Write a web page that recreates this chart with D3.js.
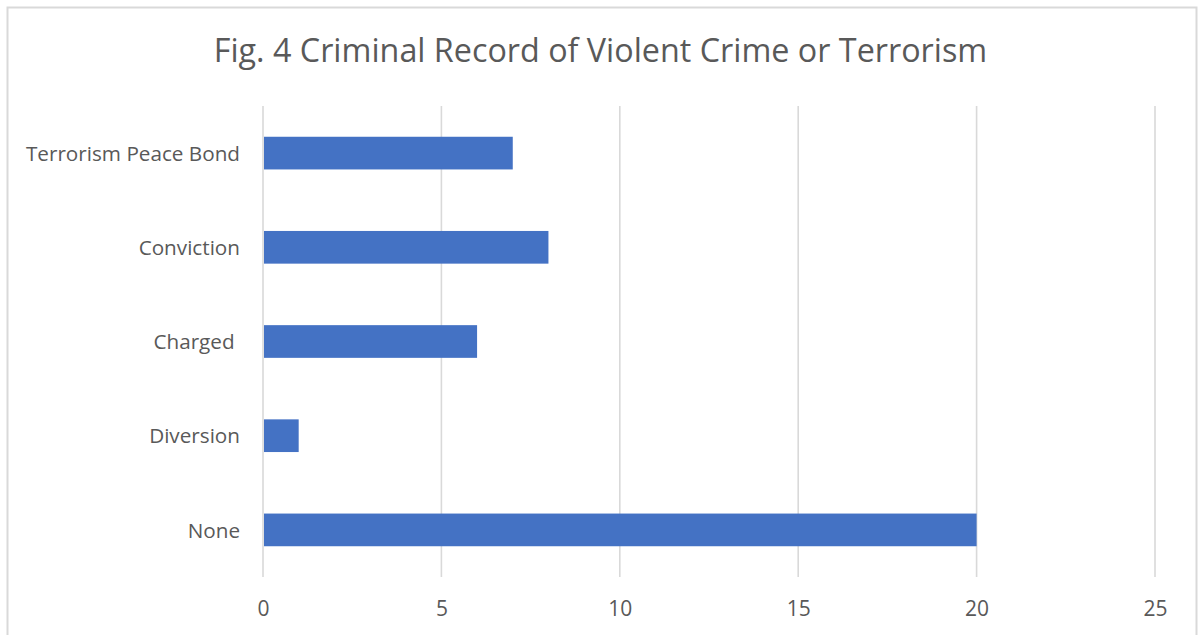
<!DOCTYPE html>
<html>
<head>
<meta charset="utf-8">
<script src="https://cdn.jsdelivr.net/npm/d3@7"></script>
<style>
  body { margin: 0; background: #fff; }
  text { font-family: "Open Sans", sans-serif; fill: #595959; white-space: pre; }
</style>
</head>
<body>
<div id="chart"></div>
<script>
// categories top to bottom, as drawn ("Charged " has a trailing space in the source)
var categories = ["Terrorism Peace Bond", "Conviction", "Charged ", "Diversion", "None"];
var values = [7, 8, 6, 1, 20];
var xTicks = [0, 5, 10, 15, 20, 25];
var title = "Fig. 4 Criminal Record of Violent Crime or Terrorism";

var width = 1203, height = 635;
var plot = { left: 263, right: 1155, top: 106, bottom: 577 };

var svg = d3.select("#chart").append("svg")
    .attr("width", width)
    .attr("height", height);

// chart frame (bottom edge is cut off in the original)
svg.append("path")
    .attr("d", "M7.5," + height + " V7.5 H1196.5 V" + height)
    .style("fill", "none")
    .style("stroke", "#d9d9d9")
    .style("stroke-width", 2);

svg.append("text")
    .attr("x", 600.5)
    .attr("y", 62)
    .attr("text-anchor", "middle")
    .style("font-size", "32.3px")
    .text(title);

var x = d3.scaleLinear()
    .domain([0, 25])
    .range([plot.left, plot.right]);

var y = d3.scaleBand()
    .domain(categories)
    .range([plot.top, plot.bottom])
    .paddingInner(0.653)
    .paddingOuter(0.3265);

// vertical gridlines
svg.append("g").selectAll("line")
    .data(xTicks)
    .join("line")
    .attr("x1", d => x(d))
    .attr("x2", d => x(d))
    .attr("y1", plot.top)
    .attr("y2", plot.bottom)
    .style("stroke", "#d9d9d9")
    .style("stroke-width", 1.6);

// bars
svg.append("g").selectAll("rect")
    .data(values)
    .join("rect")
    .attr("x", x(0) + 1)
    .attr("y", (d, i) => y(categories[i]))
    .attr("width", d => x(d) - x(0) - 1)
    .attr("height", y.bandwidth())
    .style("fill", "#4472c4");

// x axis labels
var xAxis = d3.axisBottom(x).tickValues(xTicks).tickSize(0).tickPadding(0);
var gx = svg.append("g")
    .attr("transform", "translate(0," + 601 + ")")
    .call(xAxis);
gx.select(".domain").remove();
gx.selectAll("text")
    .attr("dy", "0.71em")
    .style("font-size", "21px")
    .style("fill", "#595959")
    .style("font-family", "'Open Sans', sans-serif");

// category labels
var yAxis = d3.axisLeft(y).tickSize(0).tickPadding(0);
var gy = svg.append("g")
    .attr("transform", "translate(" + 240 + ",1)")
    .call(yAxis);
gy.select(".domain").remove();
gy.selectAll("text")
    .style("font-size", "20.7px")
    .style("fill", "#595959")
    .style("font-family", "'Open Sans', sans-serif");
</script>
</body>
</html>
